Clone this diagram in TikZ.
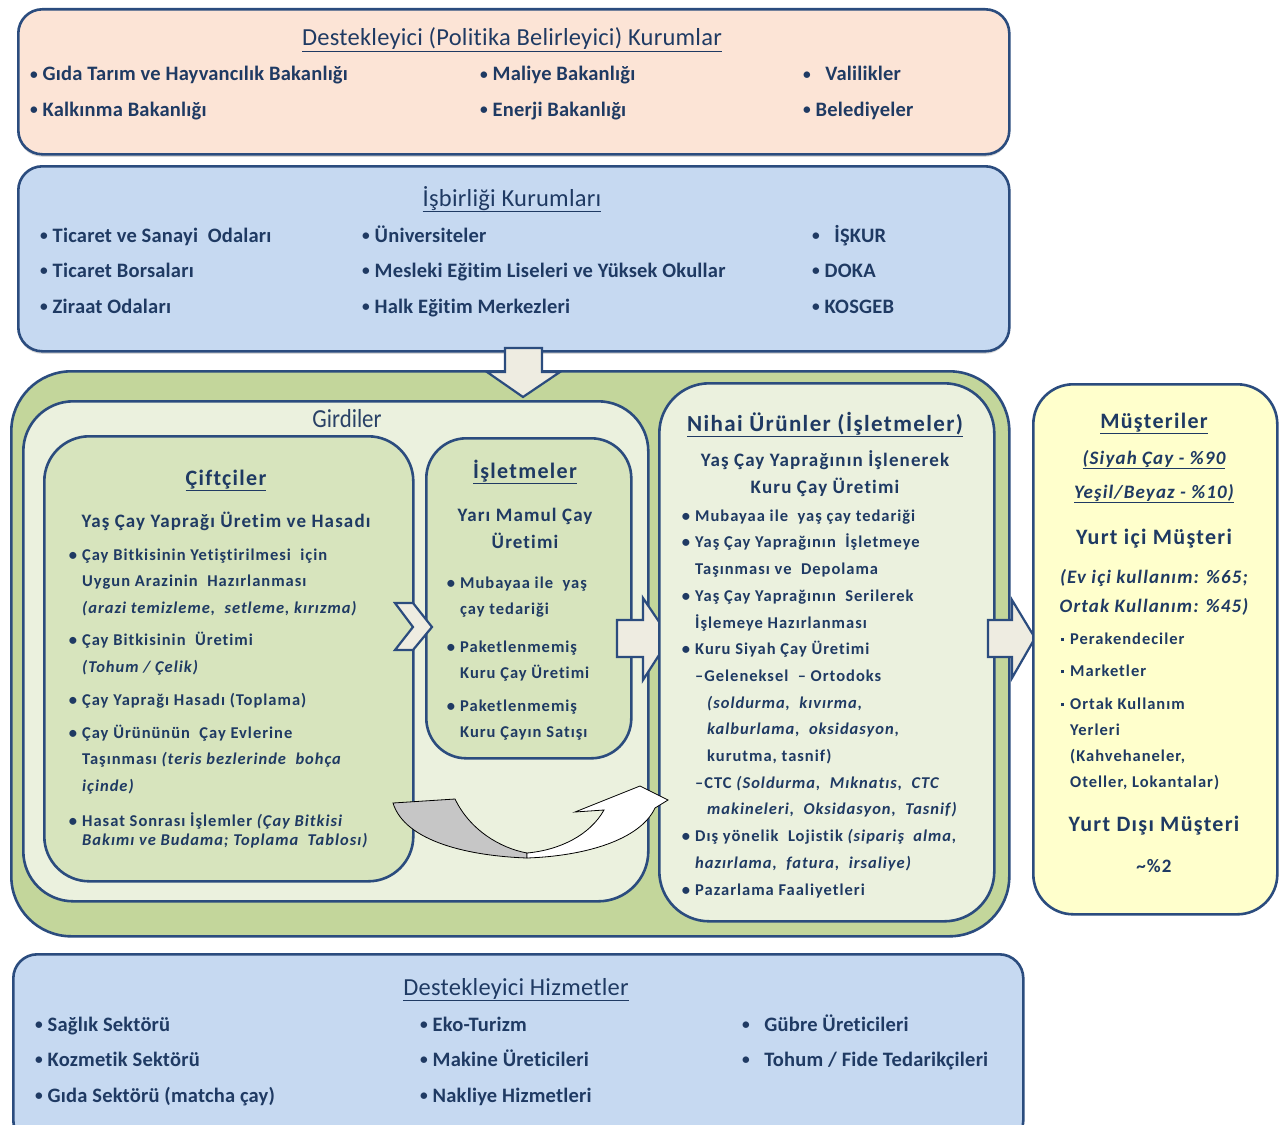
\documentclass[tikz,border=0pt]{standalone}
\usepackage{fontspec}
\usepackage{graphicx}
\setmainfont[LetterSpace=6, Ligatures=NoCommon]{Carlito}
\newfontfamily\plainfont[LetterSpace=1, Ligatures=NoCommon]{Carlito}
\newfontfamily\condfont[FakeStretch=0.88, Ligatures=NoCommon]{Carlito}
\usetikzlibrary{shadows}

\definecolor{edgeblue}{HTML}{2B4C7E}
\definecolor{txtblue}{HTML}{1F3A63}
\definecolor{peach}{HTML}{FCE4D6}
\definecolor{skyblue}{HTML}{C6D9F1}
\definecolor{leafgreen}{HTML}{C3D69B}
\definecolor{palegreen}{HTML}{EBF1DE}
\definecolor{midgreen}{HTML}{D7E4BD}
\definecolor{paleyellow}{HTML}{FFFFCC}
\definecolor{arrowfill}{HTML}{EEECE1}

\tikzset{
  panel/.style={draw=edgeblue, line width=2.6pt, rounded corners=24pt, anchor=north west, inner sep=0pt},
  shadowed/.style={drop shadow={shadow xshift=0pt, shadow yshift=-2.5pt, opacity=0.3}},
  toptitle/.style={font=\plainfont\fontsize{24.5}{28}\selectfont, text=txtblue, anchor=base, inner sep=0pt},
  topitem/.style={font=\plainfont\bfseries\fontsize{20.5}{22}\selectfont, text=txtblue, anchor=base west, inner sep=0pt},
  boxtitle/.style={font=\bfseries\fontsize{22}{26}\selectfont, text=txtblue, anchor=base, inner sep=0pt},
  boxsub/.style={font=\bfseries\fontsize{19}{27}\selectfont, text=txtblue, anchor=base, align=center, inner sep=0pt},
  listitem/.style={font=\bfseries\fontsize{16.5}{26.5}\selectfont, text=txtblue, anchor=base west, align=left, inner sep=0pt},
  blockarrow/.style={draw=edgeblue, line width=2.2pt, fill=arrowfill, line join=miter},
  ribbon/.style={draw=black, line width=0.8pt, line join=miter}
}
\newcommand{\bul}{\llap{•\hspace{5pt}}}
\newcommand{\tbul}{\raisebox{1.5pt}{\scalebox{0.75}{•}}}
\newcommand{\sqbul}{\llap{\raisebox{3pt}{\rule{3.5pt}{3.5pt}}\hspace{6pt}}}

\begin{document}
\begin{tikzpicture}[x=1pt, y=-1pt]
\useasboundingbox (0,0) rectangle (1279,1124);
\fill[white] (0,0) rectangle (1279,1124);

% policy makers
\node[panel, shadowed, fill=peach, minimum width=991, minimum height=145] (polbox) at (17,8) {};
\node[toptitle] (polhead) at (512,46) {\underline{Destekleyici (Politika Belirleyici) Kurumlar}};
\node[topitem] (pol1) at (30,81) {\tbul\ Gıda Tarım ve Hayvancılık Bakanlığı};
\node[topitem] (pol2) at (30,116) {\tbul\ Kalkınma Bakanlığı};
\node[topitem] (pol3) at (480,81) {\tbul\ Maliye Bakanlığı};
\node[topitem] (pol4) at (480,116) {\tbul\ Enerji Bakanlığı};
\node[topitem] (pol5) at (803,81) {\tbul\ \ \ Valilikler};
\node[topitem] (pol6) at (803,116) {\tbul\ Belediyeler};

% cooperation
\node[panel, shadowed, fill=skyblue, minimum width=991, minimum height=185] (coopbox) at (17,165) {};
\node[toptitle] (coophead) at (512,206) {\underline{İşbirliği Kurumları}};
\node[topitem] (coop1) at (40,242) {\tbul\ Ticaret ve Sanayi\ \ Odaları};
\node[topitem] (coop2) at (40,277) {\tbul\ Ticaret Borsaları};
\node[topitem] (coop3) at (40,313) {\tbul\ Ziraat Odaları};
\node[topitem] (coop4) at (362,242) {\tbul\ Üniversiteler};
\node[topitem] (coop5) at (362,277) {\tbul\ Mesleki Eğitim Liseleri ve Yüksek Okullar};
\node[topitem] (coop6) at (362,313) {\tbul\ Halk Eğitim Merkezleri};
\node[topitem] (coop7) at (812,242) {\tbul\ \ \ İŞKUR};
\node[topitem] (coop8) at (812,277) {\tbul\ DOKA};
\node[topitem] (coop9) at (812,313) {\tbul\ KOSGEB};

% value chain
\node[panel, fill=leafgreen, rounded corners=60pt, minimum width=998, minimum height=565] (chainbox) at (10,370) {};
\draw[blockarrow] (505,348) -- (542,348) -- (542,372) -- (560,372) -- (523,397) -- (487,372) -- (505,372) -- cycle;
\node[panel, fill=palegreen, rounded corners=50pt, minimum width=625, minimum height=500] (inputbox) at (22,400) {};
\node[font=\condfont\fontsize{26}{28}\selectfont, text=txtblue!90!gray, anchor=base, inner sep=0pt] (inputhead) at (347,427) {Girdiler};

\node[panel, fill=midgreen, rounded corners=45pt, minimum width=369, minimum height=445] (farmbox) at (43,435) {};
\node[boxtitle] (farmhead) at (226,485) {\underline{Çiftçiler}};
\node[boxsub] (farmsub) at (226,527) {Yaş Çay Yaprağı Üretim ve Hasadı};
\node[listitem] (farm1) at (82,613) {\bul Çay Bitkisinin Yetiştirilmesi\ \ için\\Uygun Arazinin\ \ Hazırlanması\\{\itshape (arazi temizleme,\ \ setleme, kırızma)}};
\node[listitem] (farm2) at (82,672) {\bul Çay Bitkisinin\ \ Üretimi\\{\itshape (Tohum / Çelik)}};
\node[listitem] (farm3) at (82,705) {\bul Çay Yaprağı Hasadı (Toplama)};
\node[listitem] (farm4) at (82,791) {\bul Çay Ürününün\ \ Çay Evlerine\\Taşınması {\itshape (teris bezlerinde\ \ bohça}\\{\itshape içinde)}};
\node[listitem, font=\bfseries\fontsize{16.5}{19}\selectfont] (farm5) at (82,845) {\bul Hasat Sonrası İşlemler {\itshape (Çay Bitkisi}\\{\itshape Bakımı ve Budama; Toplama\ \ Tablosı)}};

\node[panel, fill=midgreen, rounded corners=40pt, minimum width=205, minimum height=320] (firmbox) at (425,437) {};
\node[boxtitle] (firmhead) at (525,478) {\underline{İşletmeler}};
\node[boxsub] (firmsub) at (525,548) {Yarı Mamul Çay\\Üretimi};
\node[listitem, font=\bfseries\fontsize{16.5}{26}\selectfont] (firm1) at (460,614) {\bul Mubayaa ile\ \ yaş\\çay tedariği};
\node[listitem, font=\bfseries\fontsize{16.5}{26}\selectfont] (firm2) at (460,678) {\bul Paketlenmemiş\\Kuru Çay Üretimi};
\node[listitem, font=\bfseries\fontsize{16.5}{26}\selectfont] (firm3) at (460,737) {\bul Paketlenmemiş\\Kuru Çayın Satışı};

\draw[blockarrow] (395,603) -- (413,603) -- (432,627) -- (413,650) -- (395,650) -- (413,627) -- cycle;
\draw[blockarrow] (617,620) -- (643,620) -- (643,598) -- (670,638) -- (643,680) -- (643,657) -- (617,657) -- cycle;

\node[panel, fill=palegreen, rounded corners=50pt, minimum width=335, minimum height=538] (prodbox) at (658,382) {};
\node[boxtitle, font=\bfseries\fontsize{23}{26}\selectfont] (prodhead) at (825,431) {\underline{Nihai Ürünler (İşletmeler)}};
\node[boxsub] (prodsub) at (825,493) {Yaş Çay Yaprağının İşlenerek\\Kuru Çay Üretimi};
\node[listitem, font=\bfseries\fontsize{16.5}{26.7}\selectfont] (prodlist) at (695,895) {%
\bul Mubayaa ile\ \ yaş çay tedariği\\
\bul Yaş Çay Yaprağının\ \ İşletmeye\\
Taşınması ve\ \ Depolama\\
\bul Yaş Çay Yaprağının\ \ Serilerek\\
İşlemeye Hazırlanması\\
\bul Kuru Siyah Çay Üretimi\\
–Geleneksel\ \ – Ortodoks\\
\hspace*{12pt}{\itshape (soldurma,\ \ kıvırma,}\\
\hspace*{12pt}{\itshape kalburlama,\ \ oksidasyon,}\\
\hspace*{12pt}kurutma, tasnif)\\
–CTC {\itshape (Soldurma,\ \ Mıknatıs,\ \ CTC}\\
\hspace*{12pt}{\itshape makineleri,\ \ Oksidasyon,\ \ Tasnif)}\\
\bul Dış yönelik\ \ Lojistik {\itshape (sipariş\ \ alma,}\\
{\itshape hazırlama,\ \ fatura,\ \ irsaliye)}\\
\bul Pazarlama Faaliyetleri};

\draw[blockarrow] (988,620) -- (1012,620) -- (1012,600) -- (1035,638) -- (1012,678) -- (1012,657) -- (988,657) -- cycle;

% customers
\node[panel, fill=paleyellow, rounded corners=40pt, minimum width=244, minimum height=530] (custbox) at (1032,383) {};
\node[boxtitle] (custhead) at (1154,428) {\underline{Müşteriler}};
\node[boxsub, font=\bfseries\itshape\fontsize{19}{20}\selectfont] (custshare1) at (1154,464) {\underline{(Siyah Çay - \%90}};
\node[boxsub, font=\bfseries\itshape\fontsize{19}{20}\selectfont] (custshare2) at (1154,498) {\underline{Yeşil/Beyaz - \%10)}};
\node[boxtitle] (domhead) at (1154,544) {Yurt içi Müşteri};
\node[boxsub, font=\bfseries\itshape\fontsize{19}{29}\selectfont] (domshare) at (1154,612) {(Ev içi kullanım: \%65;\\Ortak Kullanım: \%45)};
\node[listitem] (cust1) at (1070,644) {\sqbul Perakendeciler};
\node[listitem] (cust2) at (1070,676) {\sqbul Marketler};
\node[listitem, font=\bfseries\fontsize{16.5}{26}\selectfont] (cust3) at (1070,787) {\sqbul Ortak Kullanım\\Yerleri\\(Kahvehaneler,\\Oteller, Lokantalar)};
\node[boxtitle] (abroadhead) at (1154,831) {Yurt Dışı Müşteri};
\node[boxsub] (abroadshare) at (1154,872) {\textasciitilde\%2};

% supporting services
\node[panel, shadowed, fill=skyblue, minimum width=1010, minimum height=190] (servbox) at (12,953) {};
\node[toptitle] (servhead) at (516,995) {\underline{Destekleyici Hizmetler}};
\node[topitem] (serv1) at (35,1031) {\tbul\ Sağlık Sektörü};
\node[topitem] (serv2) at (35,1066) {\tbul\ Kozmetik Sektörü};
\node[topitem] (serv3) at (35,1102) {\tbul\ Gıda Sektörü (matcha çay)};
\node[topitem] (serv4) at (420,1031) {\tbul\ Eko-Turizm};
\node[topitem] (serv5) at (420,1066) {\tbul\ Makine Üreticileri};
\node[topitem] (serv6) at (420,1102) {\tbul\ Nakliye Hizmetleri};
\node[topitem] (serv7) at (742,1031) {\tbul\ \ \ Gübre Üreticileri};
\node[topitem] (serv8) at (742,1066) {\tbul\ \ \ Tohum / Fide Tedarikçileri};

% curved feedback arrow
\draw[ribbon, fill=gray!45] (393,803) -- (455,799) .. controls (470,830) and (500,848) .. (527,853)
  -- (527,858) .. controls (470,856) and (405,842) .. (393,803) -- cycle;
\draw[ribbon, fill=white] (527,858) .. controls (585,856) and (640,840) .. (655,808) -- (668,800)
  -- (640,786) -- (575,812) -- (604,810) .. controls (590,835) and (560,850) .. (527,853) -- cycle;
\end{tikzpicture}
\end{document}
